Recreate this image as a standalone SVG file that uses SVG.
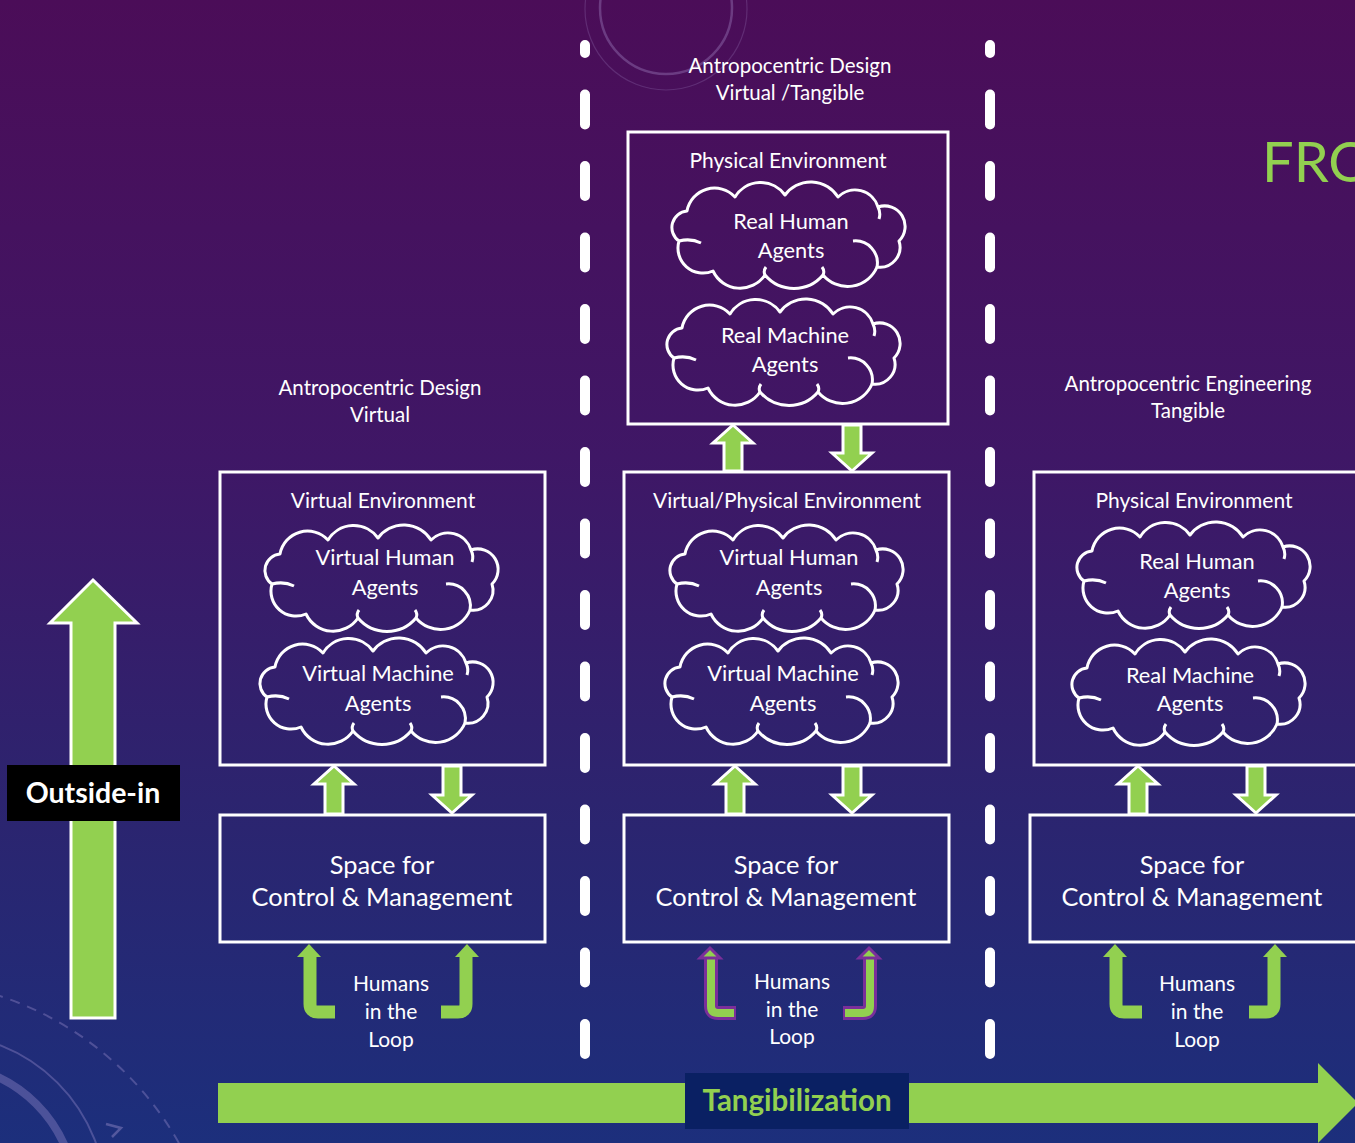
<svg xmlns="http://www.w3.org/2000/svg" xmlns:xlink="http://www.w3.org/1999/xlink" width="1355" height="1143" viewBox="0 0 1355 1143">
  <defs>
    <linearGradient id="bg" x1="0" y1="0" x2="0" y2="1">
      <stop offset="0" stop-color="#4b0d58"/>
      <stop offset="0.4" stop-color="#3f1766"/>
      <stop offset="0.7" stop-color="#2c246f"/>
      <stop offset="1" stop-color="#1c2f7c"/>
    </linearGradient>
    <!-- cloud outline, local frame about 232 x 108 -->
    <g id="cloud">
      <path d="M6,58 A16.5,16.5 0 0 1 14,28 A28,28 0 0 1 62,14 A30,30 0 0 1 112,12 A32,32 0 0 1 165,14 A24,24 0 0 1 205,24 A20.5,20.5 0 0 1 226,58 A20,20 0 0 1 204,84 A32,32 0 0 1 150,92 A38,38 0 0 1 92,92 A30,30 0 0 1 40,88 A25,25 0 0 1 6,58 Z"/>
      <path d="M6,58 Q18,55 28,60 M205,24 Q208,30 206,36 M180,58 A22,22 0 0 1 204,84 M150,92 Q152,88 149,84 M92,92 Q90,88 93,84"/>
    </g>
  </defs>
  <style>
    .box { fill: none; stroke: #ffffff; stroke-width: 3; }
    .cloud { fill: none; stroke: #ffffff; stroke-width: 3; stroke-linejoin: round; }
    .t { font-family: Lato, "Open Sans", sans-serif; fill: #ffffff; text-anchor: middle; }
    .title { font-size: 20.5px; }
    .head { font-size: 21px; }
    .agent { font-size: 21.8px; }
    .ctrl { font-size: 25.4px; }
    .hum { font-size: 21px; }
    .blk { fill: #92d050; stroke: #ffffff; stroke-width: 3; stroke-linejoin: miter; }
    .bend { fill: none; stroke: #92d050; stroke-width: 13; }
    .bendhead { fill: #92d050; }
    .bendp { fill: none; stroke: #7a2f9a; stroke-width: 14; }
    .bendg { fill: none; stroke: #92d050; stroke-width: 8; }
    .bendph { fill: #92d050; stroke: #7a2f9a; stroke-width: 3; stroke-linejoin: miter; }
    .deco { fill: none; stroke: #b9a6e0; }
    .dash { fill: none; stroke: #ffffff; stroke-width: 10; stroke-linecap: round; stroke-dasharray: 30 41.5; stroke-dashoffset: 22; }
  </style>

  <!-- backdrop -->
  <rect width="1355" height="1143" fill="url(#bg)"/>
  <g id="decoration">
    <circle cx="666" cy="8" r="66" class="deco" stroke-width="2.5" opacity="0.3"/>
    <circle cx="666" cy="9" r="81" class="deco" stroke-width="1.2" opacity="0.2"/>
    <circle cx="-100" cy="1300" r="320" class="deco" stroke-width="2" stroke-dasharray="10 8" opacity="0.3"/>
    <circle cx="-60" cy="1200" r="136" class="deco" stroke-width="8" opacity="0.3"/>
    <circle cx="-60" cy="1200" r="166" class="deco" stroke-width="2" opacity="0.3"/>
    <path d="M106,1124 L121,1128 L112,1137" class="deco" stroke-width="2.5" opacity="0.35"/>
  </g>

  <!-- heading fragment at the right edge -->
  <text x="1262" y="182" font-family="Lato, 'Open Sans', sans-serif" font-size="56" fill="#92d050">FRO</text>

  <!-- dashed column separators -->
  <g id="separators">
    <line x1="585" y1="45" x2="585" y2="1054" class="dash"/>
    <line x1="990" y1="45" x2="990" y2="1054" class="dash"/>
  </g>

  <!-- outside-in axis -->
  <g id="outside-in">
    <path d="M93,580 L137,623 L115,623 L115,1018 L71,1018 L71,623 L50,623 Z" class="blk"/>
    <rect x="7" y="765" width="173" height="56" fill="#000000"/>
    <text x="93" y="803" class="t" font-size="28.5" font-weight="bold">Outside-in</text>
  </g>

  <!-- tangibilization axis -->
  <g id="tangibilization">
    <path d="M218,1083 H1318 V1063 L1358,1103 L1318,1143 V1123 H218 Z" fill="#92d050"/>
    <rect x="685" y="1073" width="224" height="56" fill="#0a2063"/>
    <text x="797" y="1111" class="t" font-size="29.5" font-weight="bold" style="fill:#92d050">Tangibilization</text>
  </g>

  <!-- column titles -->
  <g id="title-virtual">
    <text x="380" y="395" class="t title">Antropocentric Design</text>
    <text x="380" y="422" class="t title">Virtual</text>
  </g>
  <g id="title-virtual-tangible">
    <text x="790" y="73" class="t title">Antropocentric Design</text>
    <text x="790" y="100" class="t title">Virtual /Tangible</text>
  </g>
  <g id="title-tangible">
    <text x="1188" y="391" class="t title">Antropocentric Engineering</text>
    <text x="1188" y="418" class="t title">Tangible</text>
  </g>

  <!-- environments -->
  <g id="env-virtual">
    <rect x="220" y="472" width="325" height="293" class="box"/>
    <text x="383" y="508" class="t head">Virtual Environment</text>
  </g>
  <g id="cloud-virtual-human-1">
    <use xlink:href="#cloud" x="266" y="526" class="cloud"/>
    <text x="385" y="565" class="t agent">Virtual Human</text>
    <text x="385" y="595" class="t agent">Agents</text>
  </g>
  <g id="cloud-virtual-machine-1">
    <use xlink:href="#cloud" x="261" y="639" class="cloud"/>
    <text x="378" y="681" class="t agent">Virtual Machine</text>
    <text x="378" y="711" class="t agent">Agents</text>
  </g>

  <g id="env-physical-top">
    <rect x="628" y="132" width="320" height="292" class="box"/>
    <text x="788" y="168" class="t head">Physical Environment</text>
  </g>
  <g id="cloud-real-human-top">
    <use xlink:href="#cloud" x="673" y="183" class="cloud"/>
    <text x="791" y="229" class="t agent">Real Human</text>
    <text x="791" y="258" class="t agent">Agents</text>
  </g>
  <g id="cloud-real-machine-top">
    <use xlink:href="#cloud" x="668" y="300" class="cloud"/>
    <text x="785" y="343" class="t agent">Real Machine</text>
    <text x="785" y="372" class="t agent">Agents</text>
  </g>

  <g id="env-virtual-physical">
    <rect x="624" y="472" width="325" height="293" class="box"/>
    <text x="787" y="508" class="t head">Virtual/Physical Environment</text>
  </g>
  <g id="cloud-virtual-human-2">
    <use xlink:href="#cloud" x="671" y="526" class="cloud"/>
    <text x="789" y="565" class="t agent">Virtual Human</text>
    <text x="789" y="595" class="t agent">Agents</text>
  </g>
  <g id="cloud-virtual-machine-2">
    <use xlink:href="#cloud" x="666" y="639" class="cloud"/>
    <text x="783" y="681" class="t agent">Virtual Machine</text>
    <text x="783" y="711" class="t agent">Agents</text>
  </g>

  <g id="env-physical">
    <rect x="1034" y="472" width="330" height="293" class="box"/>
    <text x="1194" y="508" class="t head">Physical Environment</text>
  </g>
  <g id="cloud-real-human-3">
    <use xlink:href="#cloud" x="1078" y="523" class="cloud"/>
    <text x="1197" y="569" class="t agent">Real Human</text>
    <text x="1197" y="598" class="t agent">Agents</text>
  </g>
  <g id="cloud-real-machine-3">
    <use xlink:href="#cloud" x="1073" y="640" class="cloud"/>
    <text x="1190" y="683" class="t agent">Real Machine</text>
    <text x="1190" y="711" class="t agent">Agents</text>
  </g>

  <!-- control spaces -->
  <g id="control-1">
    <rect x="220" y="815" width="325" height="127" class="box"/>
    <text x="382" y="874" class="t ctrl">Space for</text>
    <text x="382" y="906" class="t ctrl">Control &amp; Management</text>
  </g>
  <g id="control-2">
    <rect x="624" y="815" width="325" height="127" class="box"/>
    <text x="786" y="874" class="t ctrl">Space for</text>
    <text x="786" y="906" class="t ctrl">Control &amp; Management</text>
  </g>
  <g id="control-3">
    <rect x="1030" y="815" width="335" height="127" class="box"/>
    <text x="1192" y="874" class="t ctrl">Space for</text>
    <text x="1192" y="906" class="t ctrl">Control &amp; Management</text>
  </g>

  <!-- humans in the loop -->
  <g id="humans-1">
    <text x="391" y="991" class="t hum">Humans</text>
    <text x="391" y="1019" class="t hum">in the</text>
    <text x="391" y="1047" class="t hum">Loop</text>
  </g>
  <g id="humans-2">
    <text x="792" y="989" class="t hum">Humans</text>
    <text x="792" y="1017" class="t hum">in the</text>
    <text x="792" y="1044" class="t hum">Loop</text>
  </g>
  <g id="humans-3">
    <text x="1197" y="991" class="t hum">Humans</text>
    <text x="1197" y="1019" class="t hum">in the</text>
    <text x="1197" y="1047" class="t hum">Loop</text>
  </g>

  <!-- connectors -->
  <g id="connectors">
    <!-- between environment and control -->
    <path d="M334,766 L354,784 L343,784 L343,814 L325,814 L325,784 L314,784 Z" class="blk"/>
    <path d="M452,813 L472,795 L461,795 L461,766 L443,766 L443,795 L432,795 Z" class="blk"/>
    <path d="M735,766 L755,784 L744,784 L744,814 L726,814 L726,784 L715,784 Z" class="blk"/>
    <path d="M852,813 L872,795 L861,795 L861,766 L843,766 L843,795 L832,795 Z" class="blk"/>
    <path d="M1138,766 L1158,784 L1147,784 L1147,814 L1129,814 L1129,784 L1118,784 Z" class="blk"/>
    <path d="M1256,813 L1276,795 L1265,795 L1265,766 L1247,766 L1247,795 L1236,795 Z" class="blk"/>
    <!-- between the two middle environments -->
    <path d="M733,425 L753,443 L742,443 L742,471 L724,471 L724,443 L713,443 Z" class="blk"/>
    <path d="M852,471 L872,453 L861,453 L861,425 L843,425 L843,453 L832,453 Z" class="blk"/>

    <!-- humans-in-the-loop bent arrows -->
    <path d="M310,955 V1004 Q310,1012 318,1012 H335" class="bend"/>
    <path d="M309,944 L321,957 L297,957 Z" class="bendhead"/>
    <path d="M466,955 V1004 Q466,1012 458,1012 H441" class="bend"/>
    <path d="M467,944 L479,957 L455,957 Z" class="bendhead"/>

    <path d="M711,956 V1006 Q711,1013 718,1013 H736" class="bendp"/>
    <path d="M711,956 V1006 Q711,1013 718,1013 H734" class="bendg"/>
    <path d="M710,948 L720,958 L700,958 Z" class="bendph"/>
    <path d="M870,956 V1006 Q870,1013 863,1013 H843" class="bendp"/>
    <path d="M870,956 V1006 Q870,1013 863,1013 H845" class="bendg"/>
    <path d="M869,948 L879,958 L859,958 Z" class="bendph"/>

    <path d="M1116,955 V1004 Q1116,1012 1124,1012 H1142" class="bend"/>
    <path d="M1115,944 L1127,957 L1103,957 Z" class="bendhead"/>
    <path d="M1274,955 V1004 Q1274,1012 1266,1012 H1249" class="bend"/>
    <path d="M1275,944 L1287,957 L1263,957 Z" class="bendhead"/>
  </g>
</svg>
